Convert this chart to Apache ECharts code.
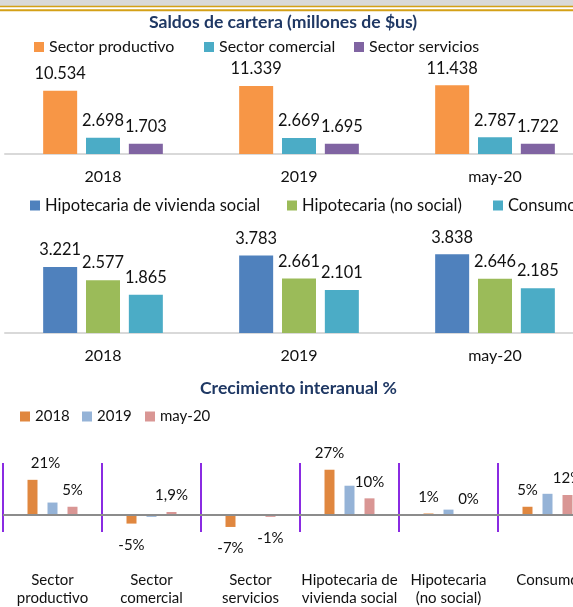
<!DOCTYPE html>
<html>
<head>
<meta charset="utf-8">
<script src="https://cdn.jsdelivr.net/npm/echarts@6/dist/echarts.min.js"></script>
<style>
html, body { margin: 0; padding: 0; background: #fff; overflow: hidden; }
#chart { width: 620px; height: 607px; }
</style>
</head>
<body>
<div id="chart"></div>
<script>
// datos
var years = ['2018', '2019', 'may-20'];
var sectorNames = ['Sector productivo', 'Sector comercial', 'Sector servicios'];
var sectorProductivo = [10534, 11339, 11438];
var sectorComercial = [2698, 2669, 2787];
var sectorServicios = [1703, 1695, 1722];
var hipoNames = ['Hipotecaria de vivienda social', 'Hipotecaria (no social)', 'Consumo'];
var hipoSocial = [3221, 3783, 3838];
var hipoNoSocial = [2577, 2661, 2646];
var consumo = [1865, 2101, 2185];
var growthCats = ['Sector\nproductivo', 'Sector\ncomercial', 'Sector\nservicios',
	'Hipotecaria de\nvivienda social', 'Hipotecaria\n(no social)', 'Consumo'];
var growthNames = ['2018', '2019', 'may-20'];
var growth2018 = [21, -5, -7, 27, 1, 5];
var growth2019 = [7.5, -1, -0.4, 17.5, 3.3, 12.7];
var growthMay20 = [5, 1.9, -1, 10, 0, 12];

var font = 'Lato';
var navy = '#1F3864';
var colors1 = ['#F79646', '#4BACC6', '#8064A2'];
var colors2 = ['#4F81BD', '#9BBB59', '#4BACC6'];
var colors3 = ['#E0873F', '#95B3D7', '#D99694'];

// el div es mas ancho que la ventana: el grafico original esta cortado a la derecha
var myChart = echarts.init(document.getElementById('chart'));

function miles(p) {
	return (p.value / 1000).toFixed(3);
}
function pct(p) {
	return String(p.value).replace('.', ',') + '%';
}

function saldoSeries(name, values, color, idx) {
	return {
		name : name,
		type : 'bar',
		xAxisIndex : idx,
		yAxisIndex : idx,
		data : values,
		barWidth : 34,
		barGap : '26%',
		itemStyle : { color : color },
		label : {
			show : true,
			position : 'top',
			distance : 9,
			formatter : miles,
			fontFamily : font,
			fontSize : 16.4,
			color : '#111'
		}
	};
}

function growthSeries(name, values, color, withLabels) {
	var data = values.map(function(v, i) {
		var item = { value : v, label : v < 0 ? { position : 'bottom', distance : 14 } : { position : 'top' } };
		// la etiqueta de 21% esta corrida a la derecha en el original
		if (name === '2018' && i === 0) item.label.offset = [13, 0];
		return item;
	});
	return {
		name : name,
		type : 'bar',
		xAxisIndex : 2,
		yAxisIndex : 2,
		data : data,
		barWidth : 10,
		barGap : '100%',
		itemStyle : { color : color },
		label : {
			show : withLabels,
			distance : 9,
			formatter : pct,
			fontFamily : font,
			fontSize : 15,
			color : '#111'
		}
	};
}

function legendItem(name, left, top, size) {
	return {
		data : [ name ],
		left : left,
		top : top,
		padding : 0,
		icon : 'rect',
		itemWidth : 10,
		itemHeight : 10,
		selectedMode : false,
		textStyle : { fontFamily : font, fontSize : size, color : '#111' }
	};
}

function catAxis(idx, data) {
	return {
		type : 'category',
		gridIndex : idx,
		data : data,
		axisTick : { show : false },
		axisLine : { lineStyle : { color : '#D9D9D9', width : 2 } },
		axisLabel : { fontFamily : font, fontSize : 16, color : '#111', margin : 15 }
	};
}

var option = {
	animation : false,
	graphic : [
		{ type : 'rect', shape : { x : 0, y : 0, width : 620, height : 6 }, style : { fill : '#D9D9D9' } },
		{ type : 'rect', shape : { x : 0, y : 5.7, width : 620, height : 1.6 }, style : { fill : '#D4A017' } },
		{ type : 'rect', shape : { x : 0, y : 9.3, width : 620, height : 2 }, style : { fill : '#D4A017' } }
	],
	title : [ {
		text : 'Saldos de cartera (millones de $us)',
		left : 149,
		top : 13,
		padding : 0,
		textStyle : { fontFamily : font, fontSize : 17.6, fontWeight : 'bold', color : navy }
	}, {
		text : 'Crecimiento interanual %',
		left : 200,
		top : 379,
		padding : 0,
		textStyle : { fontFamily : font, fontSize : 17.6, fontWeight : 'bold', color : navy }
	} ],
	legend : [
		legendItem(sectorNames[0], 34, 39, 16),
		legendItem(sectorNames[1], 204, 39, 16),
		legendItem(sectorNames[2], 354, 39, 16),
		legendItem(hipoNames[0], 30, 197, 16.5),
		legendItem(hipoNames[1], 287, 197, 16.5),
		legendItem(hipoNames[2], 493, 197, 16.5),
		legendItem(growthNames[0], 20, 409, 15),
		legendItem(growthNames[1], 82, 409, 15),
		legendItem(growthNames[2], 145, 409, 15)
	],
	grid : [
		{ left : 5, width : 588, top : 82, height : 72 },
		{ left : 5, width : 588, top : 251, height : 82 },
		{ left : 3, width : 594, top : 463, height : 74 }
	],
	xAxis : [
		catAxis(0, years),
		catAxis(1, years),
		{
			type : 'category',
			gridIndex : 2,
			data : growthCats,
			axisTick : { show : false },
			axisLine : { show : false, onZero : false },
			splitLine : { show : true, interval : 0, lineStyle : { color : '#8A2BE2', width : 2 } },
			axisLabel : { interval : 0, fontFamily : font, fontSize : 15, color : '#111', margin : 39, lineHeight : 18, verticalAlign : 'top' }
		}
	],
	yAxis : [
		{ type : 'value', gridIndex : 0, min : 0, max : 12000, show : false },
		{ type : 'value', gridIndex : 1, min : 0, max : 4000, show : false },
		{ type : 'value', gridIndex : 2, min : -10, max : 31, show : false }
	],
	series : [
		saldoSeries(sectorNames[0], sectorProductivo, colors1[0], 0),
		saldoSeries(sectorNames[1], sectorComercial, colors1[1], 0),
		saldoSeries(sectorNames[2], sectorServicios, colors1[2], 0),
		saldoSeries(hipoNames[0], hipoSocial, colors2[0], 1),
		saldoSeries(hipoNames[1], hipoNoSocial, colors2[1], 1),
		saldoSeries(hipoNames[2], consumo, colors2[2], 1),
		growthSeries(growthNames[0], growth2018, colors3[0], true),
		growthSeries(growthNames[1], growth2019, colors3[1], false),
		growthSeries(growthNames[2], growthMay20, colors3[2], true),
		{
			type : 'line',
			xAxisIndex : 2,
			yAxisIndex : 2,
			data : [],
			markLine : {
				silent : true,
				symbol : 'none',
				label : { show : false },
				lineStyle : { color : '#8C8C8C', width : 2, type : 'solid' },
				data : [ { yAxis : 0 } ]
			}
		}
	]
};
myChart.setOption(option);
</script>
</body>
</html>
